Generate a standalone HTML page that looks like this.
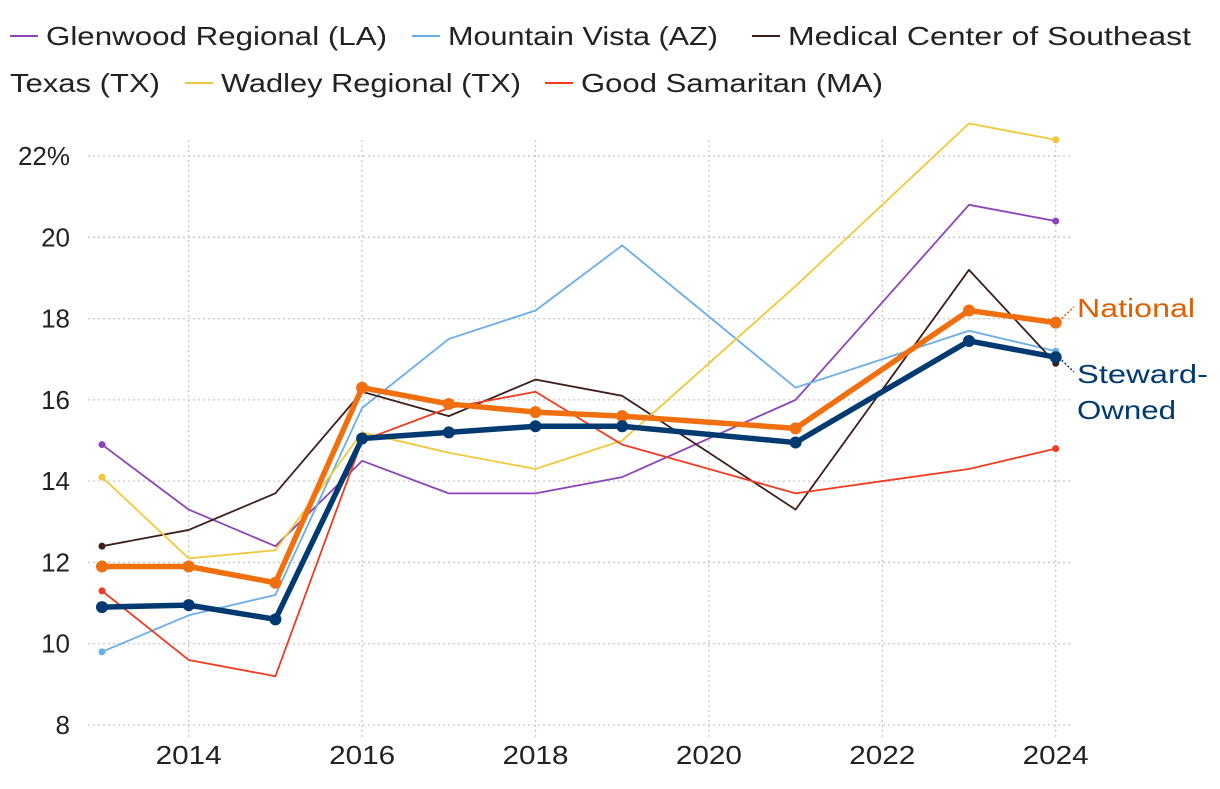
<!DOCTYPE html>
<html><head><meta charset="utf-8">
<style>
body{margin:0;background:#fff;width:1220px;height:784px;overflow:hidden;font-family:"Liberation Sans",sans-serif;}
svg text{font-family:"Liberation Sans",sans-serif;}
</style></head>
<body>
<svg id="chart" width="1220" height="784" xmlns="http://www.w3.org/2000/svg"></svg>
<script>
const years=[2013,2014,2015,2016,2017,2018,2019,2020,2021,2022,2023,2024];
const glenwood=[14.9,13.3,12.4,14.5,13.7,13.7,14.1,null,16.0,null,20.8,20.4];
const mountainVista=[9.8,10.7,11.2,15.8,17.5,18.2,19.8,null,16.3,null,17.7,17.2];
const medicalCenter=[12.4,12.8,13.7,16.2,15.6,16.5,16.1,null,13.3,null,19.2,16.9];
const wadley=[14.1,12.1,12.3,15.2,14.7,14.3,15.0,null,18.8,null,22.8,22.4];
const goodSamaritan=[11.3,9.6,9.2,15.0,15.8,16.2,14.9,null,13.7,null,14.3,14.8];
const national=[11.9,11.9,11.5,16.3,15.9,15.7,15.6,null,15.3,null,18.2,17.9];
const steward=[10.9,10.95,10.6,15.05,15.2,15.35,15.35,null,14.95,null,17.45,17.05];
const yTicks=[8,10,12,14,16,18,20,22];
const yTickLabels=["8","10","12","14","16","18","20","22%"];
const xTicks=[2014,2016,2018,2020,2022,2024];

const svg=document.getElementById('chart');
const NS="http://www.w3.org/2000/svg";
const x=v=>102+(v-2013)*86.7;
const y=v=>725-(v-8)*40.64;
function mk(tag,attrs,parent){const e=document.createElementNS(NS,tag);for(const k in attrs)e.setAttribute(k,attrs[k]);(parent||svg).appendChild(e);return e;}

yTicks.forEach((t,i)=>{
  const g=mk('line',{x1:88,x2:1072,y1:y(t),y2:y(t),stroke:'#c8c8c8','stroke-width':1.3,'stroke-dasharray':'2,3'});
  
  
  const tx=mk('text',{x:70,y:y(t)+9,'text-anchor':'end','font-size':26,fill:'#222'});
  tx.textContent=yTickLabels[i];
  
  
});
xTicks.forEach(t=>{
  const g=mk('line',{x1:x(t),x2:x(t),y1:140,y2:740,stroke:'#c8c8c8','stroke-width':1.3,'stroke-dasharray':'2,3'});
  
  
  const tx=mk('text',{x:x(t),y:764,'text-anchor':'middle','font-size':26,fill:'#222',textLength:66,lengthAdjust:'spacingAndGlyphs'});
  tx.textContent=t;
  
  
});

const series=[
 {d:glenwood,c:'#8b45b8',w:1.8,r:3.5,n:'glenwood-line'},
 {d:mountainVista,c:'#6aaee8',w:1.8,r:3.5,n:'mountain-vista-line'},
 {d:medicalCenter,c:'#3d1f1c',w:1.8,r:3.5,n:'medical-center-line'},
 {d:wadley,c:'#f0c93a',w:1.8,r:3.5,n:'wadley-line'},
 {d:goodSamaritan,c:'#f03c20',w:1.8,r:3.5,n:'good-samaritan-line'},
 {d:national,c:'#f07010',w:5.5,r:6,n:'national-line'},
 {d:steward,c:'#003a70',w:5.5,r:6,n:'steward-line'}
];
series.forEach(s=>{
  const pts=[];
  s.d.forEach((v,i)=>{if(v!=null)pts.push([x(years[i]),y(v)]);});
  const p=mk('polyline',{points:pts.map(p=>p.join(',')).join(' '),fill:'none',stroke:s.c,'stroke-width':s.w,'stroke-linejoin':'round'});
  
  
  pts.forEach(q=>{
    const c=mk('circle',{cx:q[0],cy:q[1],r:s.r,fill:s.c});
    if(s.r<5){c.setAttribute('opacity',(q===pts[0]||q===pts[pts.length-1])?1:0);}
    
    
  });
});

const nx=x(2024),ny=y(national[11]),sy=y(steward[11]);
const l1=mk('line',{x1:nx+6,y1:ny-4,x2:1074,y2:ny-16,stroke:'#e06000','stroke-width':1.5,'stroke-dasharray':'2,2'});


const t1=mk('text',{x:1077,y:317,'font-size':26,fill:'#e06000',textLength:118,lengthAdjust:'spacingAndGlyphs'});
t1.textContent='National';


const l2=mk('line',{x1:nx+6,y1:sy+3,x2:1074,y2:372,stroke:'#003a70','stroke-width':1.5,'stroke-dasharray':'2,2'});


const t2=mk('text',{x:1077,y:383,'font-size':26,fill:'#003a70',textLength:131,lengthAdjust:'spacingAndGlyphs'});
t2.textContent='Steward-';


const t3=mk('text',{x:1077,y:419,'font-size':26,fill:'#003a70',textLength:99,lengthAdjust:'spacingAndGlyphs'});
t3.textContent='Owned';



const legend=[
 {lx:10,ty:45,t:'Glenwood Regional (LA)',w:341,c:'#8b45b8',n:'legend-glenwood'},
 {lx:412,ty:45,t:'Mountain Vista (AZ)',w:270,c:'#6aaee8',n:'legend-mountain-vista'},
 {lx:752,ty:45,t:'Medical Center of Southeast',w:403,c:'#3d1f1c',n:'legend-medical-center'},
 {lx:185,ty:92,t:'Wadley Regional (TX)',w:300,c:'#f0c93a',n:'legend-wadley'},
 {lx:545,ty:92,t:'Good Samaritan (MA)',w:302,c:'#f03c20',n:'legend-good-samaritan'}
];
legend.forEach(e=>{
  const g=mk('g',{});
  
  
  mk('line',{x1:e.lx,x2:e.lx+28,y1:e.ty-9,y2:e.ty-9,stroke:e.c,'stroke-width':2},g);
  const t=mk('text',{x:e.lx+36,y:e.ty,'font-size':26,fill:'#222',textLength:e.w,lengthAdjust:'spacingAndGlyphs'},g);
  t.textContent=e.t;
});
const tt=mk('text',{x:10,y:92,'font-size':26,fill:'#222',textLength:150,lengthAdjust:'spacingAndGlyphs'});
tt.textContent='Texas (TX)';


</script>
</body></html>
